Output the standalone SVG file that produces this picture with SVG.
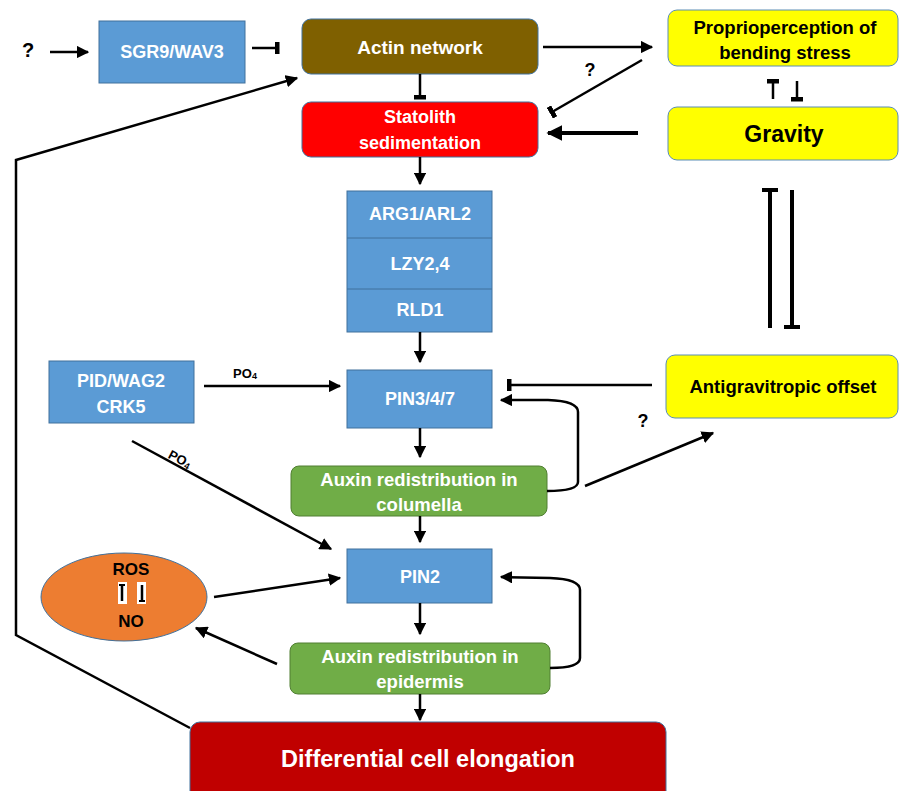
<svg xmlns="http://www.w3.org/2000/svg" width="900" height="791" viewBox="0 0 900 791">
<defs>
<style>
.t{font-family:"Liberation Sans",Arial,sans-serif;font-weight:bold;text-anchor:middle;dominant-baseline:central}
.w{fill:#fff}
.k{fill:#000}
.blue{fill:#5B9BD5;stroke:#41719C;stroke-width:1}
.yel{fill:#FFFF00;stroke:#5B8DB5;stroke-width:1}
.grn{fill:#70AD47;stroke:#507E32;stroke-width:1}
.ln{fill:none;stroke:#000;stroke-width:2.5}
.thick{fill:none;stroke:#000;stroke-width:4}
</style>
<marker id="ah" viewBox="0 0 10 10" refX="9" refY="5" markerWidth="5" markerHeight="5" orient="auto" markerUnits="strokeWidth"><path d="M0,0 L10,5 L0,10 z" fill="#000"/></marker>
<marker id="ahs" viewBox="0 0 10 10" refX="9" refY="5" markerWidth="4" markerHeight="4" orient="auto" markerUnits="strokeWidth"><path d="M0,0 L10,5 L0,10 z" fill="#000"/></marker>
<marker id="bar" viewBox="0 0 4 10" refX="2" refY="5" markerWidth="2" markerHeight="5" orient="auto" markerUnits="strokeWidth"><rect x="0" y="0" width="4" height="10" fill="#000"/></marker>
<marker id="barT" viewBox="0 0 4 16" refX="2" refY="8" markerWidth="4" markerHeight="16" orient="auto" markerUnits="userSpaceOnUse"><rect x="0" y="0" width="4" height="16" fill="#000"/></marker>
</defs>

<g id="q1"><text class="t k" x="28" y="50" font-size="20">?</text></g>

<g id="sgr9"><rect class="blue" x="99" y="21" width="146" height="62"/><text class="t w" x="172" y="52" font-size="18">SGR9/WAV3</text></g>

<g id="actin"><rect x="302" y="19" width="236" height="55" rx="9" fill="#7F6000" stroke="#41719C" stroke-width="1"/><text class="t w" x="420" y="47" font-size="19">Actin network</text></g>

<g id="statolith"><rect x="302" y="102" width="236" height="55" rx="9" fill="#FF0000" stroke="#41719C" stroke-width="1"/><text class="t w" x="420" y="117" font-size="18">Statolith</text><text class="t w" x="420" y="143" font-size="18">sedimentation</text></g>

<g id="proprio"><rect class="yel" x="668" y="10" width="230" height="56" rx="9"/><text class="t k" x="785" y="27" font-size="18.5">Proprioperception of</text><text class="t k" x="785" y="52" font-size="18.5">bending stress</text></g>

<g id="gravity"><rect class="yel" x="668" y="107" width="230" height="53" rx="9"/><text class="t k" x="784" y="134" font-size="23">Gravity</text></g>

<g id="arg"><rect class="blue" x="347" y="191" width="145" height="141"/><line x1="347" y1="238" x2="492" y2="238" stroke="#41719C" stroke-width="1"/><line x1="347" y1="289" x2="492" y2="289" stroke="#41719C" stroke-width="1"/><text class="t w" x="420" y="214" font-size="18">ARG1/ARL2</text><text class="t w" x="420" y="264" font-size="18">LZY2,4</text><text class="t w" x="420" y="310" font-size="18">RLD1</text></g>

<g id="pid"><rect class="blue" x="49" y="361" width="145" height="62"/><text class="t w" x="121" y="381" font-size="18">PID/WAG2</text><text class="t w" x="121" y="407" font-size="18">CRK5</text></g>

<g id="pin347"><rect class="blue" x="347" y="370" width="145" height="58"/><text class="t w" x="420" y="399" font-size="18">PIN3/4/7</text></g>

<g id="antigrav"><rect class="yel" x="666" y="355" width="232" height="63" rx="9"/><text class="t k" x="783" y="386" font-size="18.5">Antigravitropic offset</text></g>

<g id="auxcol"><rect class="grn" x="291" y="466" width="256" height="50" rx="8"/><text class="t w" x="419" y="479" font-size="18.5">Auxin redistribution in</text><text class="t w" x="419" y="504" font-size="18.5">columella</text></g>

<g id="pin2"><rect class="blue" x="347" y="549" width="145" height="54"/><text class="t w" x="420" y="577" font-size="18">PIN2</text></g>

<g id="rosno"><ellipse cx="124" cy="597" rx="83" ry="44" fill="#ED7D31" stroke="#41719C" stroke-width="1"/><text class="t k" x="131" y="569" font-size="17">ROS</text><text class="t k" x="131" y="621" font-size="17">NO</text>
<rect x="118" y="582" width="9" height="22" fill="#fff"/><rect x="137" y="582" width="9" height="22" fill="#fff"/>
<line x1="122" y1="585" x2="122" y2="601" stroke="#000" stroke-width="2.5"/><line x1="119" y1="585" x2="125" y2="585" stroke="#000" stroke-width="2"/>
<line x1="142" y1="585" x2="142" y2="601" stroke="#000" stroke-width="2.5"/><line x1="139" y1="601" x2="145" y2="601" stroke="#000" stroke-width="2"/></g>

<g id="auxepi"><rect class="grn" x="290" y="643" width="260" height="51" rx="8"/><text class="t w" x="420" y="656" font-size="18.5">Auxin redistribution in</text><text class="t w" x="420" y="681" font-size="18.5">epidermis</text></g>

<g id="diff"><rect x="190" y="722" width="476" height="80" rx="10" fill="#C00000" stroke="#41719C" stroke-width="1"/><text class="t w" x="428" y="759" font-size="23.5">Differential cell elongation</text></g>

<g id="labels">
<text class="t k" x="590" y="70" font-size="18">?</text>
<text class="t k" x="643" y="421" font-size="18">?</text>
<text class="t k" x="245" y="373" font-size="13">PO<tspan font-size="9" dy="3">4</tspan></text>
<text class="t k" x="0" y="0" font-size="13" transform="translate(180,459) rotate(28)">PO<tspan font-size="9" dy="3">4</tspan></text>
</g>

<g id="connectors">
<line class="ln" x1="50" y1="52" x2="88" y2="52" marker-end="url(#ah)"/>
<line class="ln" x1="252" y1="48" x2="277" y2="48" marker-end="url(#bar)"/>
<line class="ln" x1="420" y1="74" x2="420" y2="97" marker-end="url(#bar)"/>
<line class="ln" x1="543" y1="47" x2="652" y2="47" marker-end="url(#ah)"/>
<line class="ln" x1="642" y1="60" x2="552" y2="112" marker-end="url(#bar)"/>
<line class="thick" x1="638" y1="133" x2="548" y2="133" marker-end="url(#ahs)"/>
<line class="ln" x1="773" y1="99" x2="773" y2="81" marker-end="url(#bar)"/>
<line class="ln" x1="797" y1="81" x2="797" y2="99" marker-end="url(#bar)"/>
<line class="thick" x1="770" y1="328" x2="770" y2="190" marker-end="url(#barT)"/>
<line class="thick" x1="792" y1="190" x2="792" y2="327" marker-end="url(#barT)"/>
<line class="ln" x1="420" y1="157" x2="420" y2="184" marker-end="url(#ah)"/>
<line class="ln" x1="420" y1="332" x2="420" y2="362" marker-end="url(#ah)"/>
<line class="ln" x1="204" y1="386" x2="340" y2="386" marker-end="url(#ah)"/>
<line class="ln" x1="132" y1="441" x2="331" y2="549" marker-end="url(#ah)"/>
<line class="ln" x1="652" y1="385" x2="509" y2="385" marker-end="url(#bar)"/>
<line class="ln" x1="420" y1="428" x2="420" y2="457" marker-end="url(#ah)"/>
<path class="ln" d="M547,491 Q578,491 578,482 L578,412 Q578,401 548,400 L501,400" marker-end="url(#ah)"/>
<line class="ln" x1="585" y1="486" x2="713" y2="433" marker-end="url(#ah)"/>
<line class="ln" x1="420" y1="516" x2="420" y2="542" marker-end="url(#ah)"/>
<line class="ln" x1="214" y1="597" x2="340" y2="578" marker-end="url(#ah)"/>
<line class="ln" x1="277" y1="664" x2="196" y2="628" marker-end="url(#ah)"/>
<line class="ln" x1="420" y1="603" x2="420" y2="634" marker-end="url(#ah)"/>
<path class="ln" d="M550,668 Q580,668 580,658 L580,590 Q580,579 550,578 L501,577" marker-end="url(#ah)"/>
<line class="ln" x1="420" y1="694" x2="420" y2="720" marker-end="url(#ah)"/>
<path class="ln" d="M190,728 L16,635 L16,160 L297,78" marker-end="url(#ah)"/>
</g>
</svg>
